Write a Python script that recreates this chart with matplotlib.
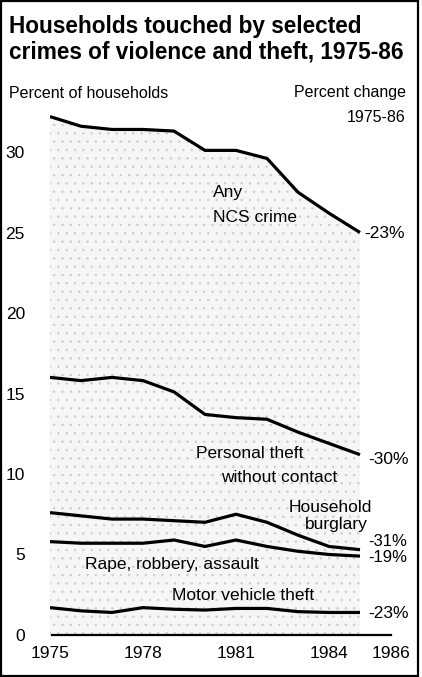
import matplotlib
matplotlib.use("Agg")
import matplotlib.pyplot as plt
from matplotlib.patches import Rectangle

plt.rcParams['font.family'] = ['Liberation Sans', 'DejaVu Sans']
plt.rcParams['hatch.linewidth'] = 0.5

years = [1975, 1976, 1977, 1978, 1979, 1980, 1981, 1982, 1983, 1984, 1985]
anyCrime = [32.2, 31.6, 31.4, 31.4, 31.3, 30.1, 30.1, 29.6, 27.5, 26.2, 25.0]
personalTheft = [16.0, 15.8, 16.0, 15.8, 15.1, 13.7, 13.5, 13.4, 12.6, 11.9, 11.2]
burglary = [7.6, 7.4, 7.2, 7.2, 7.1, 7.0, 7.5, 7.0, 6.2, 5.5, 5.3]
violence = [5.8, 5.7, 5.7, 5.7, 5.9, 5.5, 5.9, 5.5, 5.2, 5.0, 4.9]
motorTheft = [1.7, 1.5, 1.4, 1.7, 1.6, 1.55, 1.65, 1.65, 1.45, 1.4, 1.4]

yTicks = [0, 5, 10, 15, 20, 25, 30]
xTicks = [1975, 1978, 1981, 1984, 1986]

W, H = 422, 677

def fx(px):
    return px / W

def fy(py):
    return 1 - py / H

fig = plt.figure(figsize=(W / 100, H / 100), dpi=100)
ax = fig.add_axes([fx(50), fy(635), (391 - 50) / W, (635 - 103.7) / H])
ax.set_xlim(1975, 1986)
ax.set_ylim(0, 33)

# stippled background under the top line
ax.fill_between(years, 0, anyCrime, facecolor='#f6f6f6', hatch='..',
                edgecolor='#cccccc', linewidth=0)

for series in [anyCrime, personalTheft, burglary, violence, motorTheft]:
    ax.plot(years, series, color='black', linewidth=2.3, solid_capstyle='butt')

ax.axhline(0, xmin=0.006, xmax=1.0, color='black', linewidth=1.6, clip_on=False)

for s in ax.spines.values():
    s.set_visible(False)
ax.set_yticks(yTicks)
ax.set_yticklabels([str(t) for t in yTicks], fontsize=12.5)
ax.set_xticks(xTicks)
ax.set_xticklabels([str(t) for t in xTicks], fontsize=12.5)
ax.tick_params(axis='y', length=0, pad=18)
ax.tick_params(axis='x', length=0, pad=8)

# title and headers
fig.text(fx(9), fy(26), "Households touched by selected", fontsize=16.3,
         fontweight='bold', ha='left', va='center')
fig.text(fx(9), fy(52), "crimes of violence and theft, 1975-86", fontsize=16.3,
         fontweight='bold', ha='left', va='center')
fig.text(fx(9), fy(94), "Percent of households", fontsize=11.5, ha='left', va='center')
fig.text(fx(406), fy(93), "Percent change", fontsize=11.5, ha='right', va='center')
fig.text(fx(406), fy(118), "1975-86", fontsize=11.5, ha='right', va='center')

# series labels
labelSize = 12.5
fig.text(fx(213), fy(193), "Any", fontsize=labelSize, ha='left', va='center')
fig.text(fx(213), fy(218), "NCS crime", fontsize=labelSize, ha='left', va='center')
fig.text(fx(196), fy(453), "Personal theft", fontsize=labelSize, ha='left', va='center')
fig.text(fx(221), fy(477), "without contact", fontsize=labelSize, ha='left', va='center')
fig.text(fx(372), fy(507), "Household", fontsize=labelSize, ha='right', va='center')
fig.text(fx(368), fy(525), "burglary", fontsize=labelSize, ha='right', va='center')
fig.text(fx(85), fy(565), "Rape, robbery, assault", fontsize=labelSize, ha='left', va='center')
fig.text(fx(172), fy(595), "Motor vehicle theft", fontsize=labelSize, ha='left', va='center')

# percent change labels
fig.text(fx(364), fy(233), "-23%", fontsize=labelSize, ha='left', va='center')
fig.text(fx(368), fy(459), "-30%", fontsize=labelSize, ha='left', va='center')
fig.text(fx(368), fy(542), "-31%", fontsize=12, ha='left', va='center')
fig.text(fx(368), fy(558), "-19%", fontsize=12, ha='left', va='center')
fig.text(fx(368), fy(613), "-23%", fontsize=labelSize, ha='left', va='center')

# frame around the whole graphic
fig.patches.append(Rectangle((fx(1), fy(676)), fx(417), (676 - 1) / H,
                             transform=fig.transFigure, fill=False,
                             edgecolor='black', linewidth=1.6))

fig.savefig("out.png", dpi=100)
